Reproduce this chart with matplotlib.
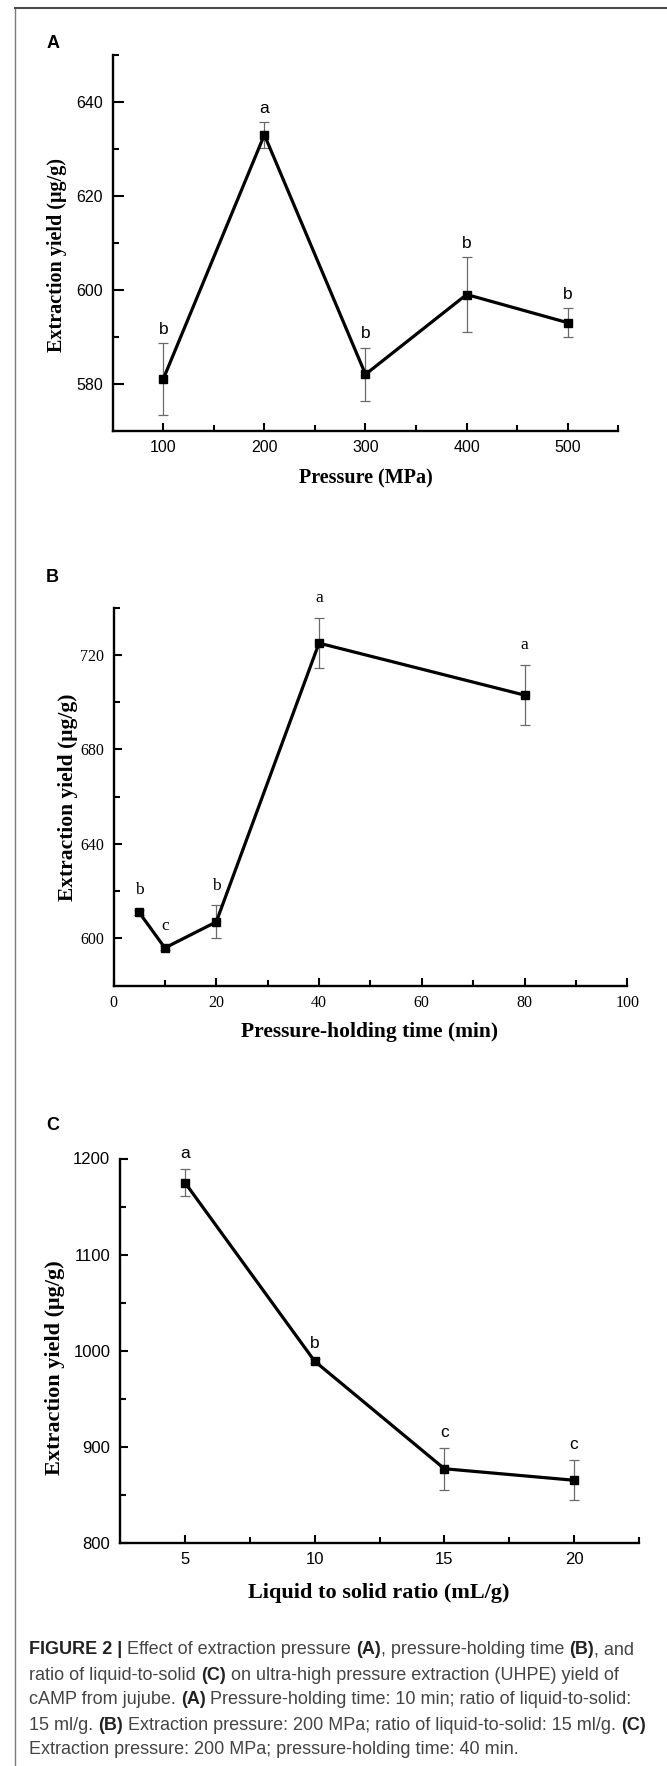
import matplotlib
matplotlib.use('Agg')
import matplotlib.pyplot as plt
from matplotlib.ticker import MultipleLocator, FixedLocator
from matplotlib.font_manager import FontProperties, fontManager
from matplotlib.lines import Line2D

# panel A - extraction pressure
pressure = [100, 200, 300, 400, 500]
yield_a = [581, 633, 582, 599, 593]
err_a = [7.6, 2.7, 5.7, 8.0, 3.1]
letters_a = ['b', 'a', 'b', 'b', 'b']

# panel B - pressure-holding time
hold_time = [5, 10, 20, 40, 80]
yield_b = [611, 596, 607, 725, 703]
err_b = [1.2, 1.0, 7.0, 10.7, 12.8]
letters_b = ['b', 'c', 'b', 'a', 'a']

# panel C - liquid to solid ratio
ratio = [5, 10, 15, 20]
yield_c = [1175, 989, 877, 865]
err_c = [14, 2, 22, 21]
letters_c = ['a', 'b', 'c', 'c']

ylab = 'Extraction yield (\u03bcg/g)'

W, H = 667, 1766
SANS = ['Liberation Sans', 'Arial', 'DejaVu Sans']
SERIF = ['Liberation Serif', 'Times New Roman', 'DejaVu Serif']


def fx(x):
    return x / W


def fy(y):
    return 1 - y / H


def panel(fig, box, xs, ys, errs, letters, family, tsize, off):
    left, top, right, bottom = box
    ax = fig.add_axes([fx(left), fy(bottom), (right - left) / W, (bottom - top) / H])
    ax.errorbar(xs, ys, yerr=errs, fmt='none', ecolor='#6a6a6a', elinewidth=0.9,
                capsize=3.5, capthick=0.9, zorder=2)
    ax.plot(xs, ys, color='black', lw=2.3, marker='s', ms=5.8, zorder=3)
    for x, y, e, l in zip(xs, ys, errs, letters):
        ax.annotate(l, (x, y + e), xytext=(0, off), textcoords='offset points',
                    ha='center', va='center', fontsize=12.5, family=family,
                    annotation_clip=False)
    ax.spines[['top', 'right']].set_visible(False)
    for s in ['left', 'bottom']:
        ax.spines[s].set_linewidth(1.7)
    ax.tick_params(which='both', width=1.5, labelsize=tsize, labelfontfamily=family)
    ax.tick_params(which='major', length=6)
    ax.tick_params(which='minor', length=4)
    ax.tick_params(axis='x', which='both', direction='in', pad=7)
    ax.tick_params(axis='y', which='both', direction='in', pad=7)
    return ax


fig = plt.figure(figsize=(W / 100, H / 100), dpi=100)

# A
axA = panel(fig, (112.7, 55, 618.3, 430.7), pressure, yield_a, err_a, letters_a,
            SANS, 11.5, 10)
axA.set_xlim(50, 550)
axA.set_ylim(570, 650)
axA.xaxis.set_major_locator(MultipleLocator(100))
axA.xaxis.set_minor_locator(FixedLocator([150, 250, 350, 450, 550]))
axA.yaxis.set_major_locator(MultipleLocator(20))
axA.yaxis.set_minor_locator(FixedLocator([590, 610, 630, 650]))
axA.tick_params(axis='y', which='major', length=8)

# B
axB = panel(fig, (113.5, 607.7, 627.3, 985.7), hold_time, yield_b, err_b, letters_b,
            SERIF, 11.5, 14)
axB.set_xlim(0, 100)
axB.set_ylim(580, 740)
axB.xaxis.set_major_locator(MultipleLocator(20))
axB.xaxis.set_minor_locator(MultipleLocator(10))
axB.yaxis.set_major_locator(MultipleLocator(40))
axB.yaxis.set_minor_locator(FixedLocator([620, 660, 700, 740]))

# C
axC = panel(fig, (120, 1158.5, 639, 1542.7), ratio, yield_c, err_c, letters_c,
            SANS, 12, 11)
axC.set_xlim(2.5, 22.5)
axC.set_ylim(800, 1200)
axC.xaxis.set_major_locator(MultipleLocator(5))
axC.xaxis.set_minor_locator(FixedLocator([7.5, 12.5, 17.5, 22.5]))
axC.yaxis.set_major_locator(MultipleLocator(100))
axC.yaxis.set_minor_locator(FixedLocator([850, 950, 1050, 1150]))

# axis titles and panel letters
for (x, y), s in zip([(57.4, 255.4), (68, 797.5), (55.3, 1367.5)], [14.5, 15.5, 16]):
    fig.text(fx(x), fy(y), ylab, rotation=90, ha='center', va='center',
             fontsize=s, family=SERIF, fontweight='bold')
for (x, y), t, s in zip([(366, 478.6), (370, 1031.7), (378.6, 1593.3)],
                        ['Pressure (MPa)', 'Pressure-holding time (min)',
                         'Liquid to solid ratio (mL/g)'], [14.5, 15.5, 16]):
    fig.text(fx(x), fy(y), t, ha='center', va='center', fontsize=s,
             family=SERIF, fontweight='bold')
for (x, y), t in zip([(53, 43.7), (52, 577.5), (53, 1125)], ['A', 'B', 'C']):
    fig.text(fx(x), fy(y), t, ha='center', va='center', fontsize=13,
             family=SANS, fontweight='bold')

# page frame
fig.add_artist(Line2D([fx(15), fx(15)], [fy(8), 0], transform=fig.transFigure,
                      color='#7a7a7a', lw=1))
fig.add_artist(Line2D([fx(15), 1], [fy(8), fy(8)], transform=fig.transFigure,
                      color='#4a4a4a', lw=1.5))

# caption
caption = [
    [('FIGURE 2 | ', True), ('Effect of extraction pressure ', False), ('(A)', True),
     (', pressure-holding time ', False), ('(B)', True), (', and', False)],
    [('ratio of liquid-to-solid ', False), ('(C)', True),
     (' on ultra-high pressure extraction (UHPE) yield of', False)],
    [('cAMP from jujube. ', False), ('(A)', True),
     (' Pressure-holding time: 10 min; ratio of liquid-to-solid:', False)],
    [('15 ml/g. ', False), ('(B)', True),
     (' Extraction pressure: 200 MPa; ratio of liquid-to-solid: 15 ml/g. ', False),
     ('(C)', True)],
    [('Extraction pressure: 200 MPa; pressure-holding time: 40 min.', False)],
]
names = {f.name for f in fontManager.ttflist}
cap_font = 'Liberation Sans Narrow' if 'Liberation Sans Narrow' in names else 'Liberation Sans'
rend = fig.canvas.get_renderer()


def text_w(s, size, bold):
    p = FontProperties(family=cap_font, size=size, weight='bold' if bold else 'normal')
    w1 = rend.get_text_width_height_descent(s + 'l', p, ismath=False)[0]
    w2 = rend.get_text_width_height_descent('l', p, ismath=False)[0]
    return w1 - w2


w12 = sum(text_w(t, 12, b) for t, b in caption[0])
cap_size = 12 * 605 / w12
for i, line in enumerate(caption):
    x = 29
    y = 1650 + 25 * i
    for t, b in line:
        fig.text(fx(x), fy(y), t, ha='left', va='center', fontsize=cap_size,
                 family=cap_font, fontweight='bold' if b else 'normal',
                 color='#222222' if b else '#444444')
        x += text_w(t, cap_size, b)

fig.savefig('out.png', dpi=100)
